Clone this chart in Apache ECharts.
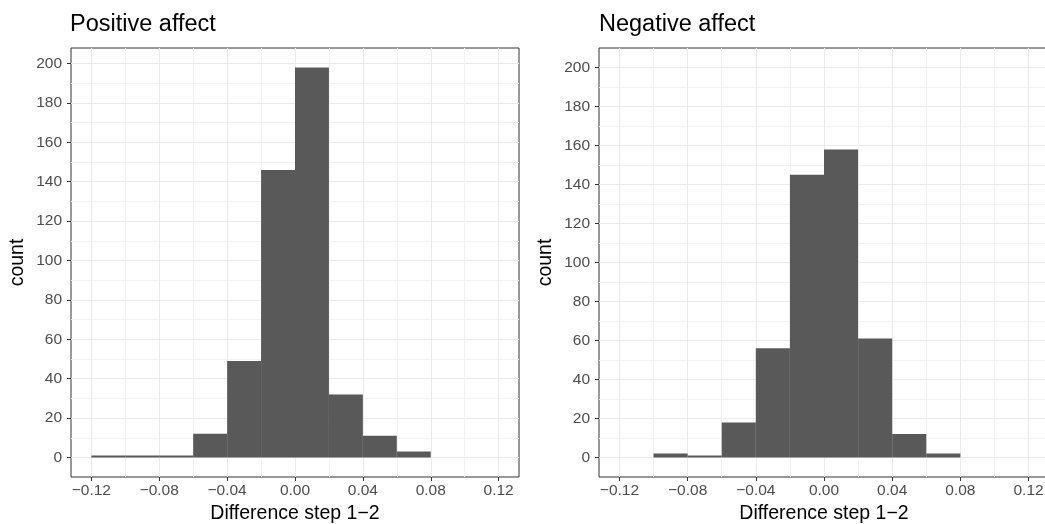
<!DOCTYPE html>
<html>
<head>
<meta charset="utf-8">
<script src="https://cdn.jsdelivr.net/npm/echarts@6/dist/echarts.min.js"></script>
<style>
  html, body { margin: 0; padding: 0; background: #fff; }
  #chart { width: 1045px; height: 524px; }
</style>
</head>
<body>
<div id="chart"></div>
<script>
// histogram data: left edge of each bin, all bins 0.02 wide
const binWidth = 0.02;
const posBins = [-0.12, -0.10, -0.08, -0.06, -0.04, -0.02, 0.00, 0.02, 0.04, 0.06];
const posCounts = [1, 1, 1, 12, 49, 146, 198, 32, 11, 3];
const negBins = [-0.10, -0.08, -0.06, -0.04, -0.02, 0.00, 0.02, 0.04, 0.06];
const negCounts = [2, 1, 18, 56, 145, 158, 61, 12, 2];

const xTicks = [-0.12, -0.08, -0.04, 0.00, 0.04, 0.08, 0.12];
const xMinor = [-0.10, -0.06, -0.02, 0.02, 0.06, 0.10];
const yTicks = [0, 20, 40, 60, 80, 100, 120, 140, 160, 180, 200];
const yMinor = [10, 30, 50, 70, 90, 110, 130, 150, 170, 190];

const panelTitles = ['Positive affect', 'Negative affect'];
const xTitle = 'Difference step 1\u22122';
const yTitle = 'count';

function fmtX(v) {
    if (Math.abs(v) < 1e-9) return '0.00';
    return (v < 0 ? '\u2212' : '') + Math.abs(v).toFixed(2);
}

function toRows(bins, counts) {
    return bins.map((b, i) => [b, b + binWidth, counts[i]]);
}

const font = 'Liberation Sans, Arial, sans-serif';
const grids = [
    { left: 71, top: 48, width: 448, bottom: 47 },
    { left: 599, top: 48, right: -4, bottom: 47 }
];
const yRanges = [[-9.9, 207.9], [-10, 210]];

const xAxes = [];
const yAxes = [];
const series = [];

grids.forEach((g, i) => {
    // visible axes with major grid lines
    xAxes.push({
        type: 'value', gridIndex: i, min: -0.132, max: 0.132,
        name: xTitle, nameLocation: 'middle', nameGap: 25,
        nameTextStyle: { fontFamily: font, fontSize: 19.5, color: '#000' },
        axisLine: { show: false, onZero: false },
        axisTick: { show: true, length: 4, customValues: xTicks, lineStyle: { color: '#333' } },
        axisLabel: { customValues: xTicks, formatter: fmtX, margin: 6, fontFamily: font, fontSize: 15.5, color: '#4d4d4d' },
        splitLine: { show: true, lineStyle: { color: '#ebebeb', width: 1 } }
    });
    yAxes.push({
        type: 'value', gridIndex: i, min: yRanges[i][0], max: yRanges[i][1],
        name: yTitle, nameLocation: 'middle', nameGap: 43, nameRotate: 90,
        nameTextStyle: { fontFamily: font, fontSize: 19.5, color: '#000' },
        axisLine: { show: false, onZero: false },
        axisTick: { show: true, length: 4, customValues: yTicks, lineStyle: { color: '#333' } },
        axisLabel: { customValues: yTicks, margin: 9, fontFamily: font, fontSize: 15.5, color: '#4d4d4d' },
        splitLine: { show: true, lineStyle: { color: '#ebebeb', width: 1 } }
    });
});

grids.forEach((g, i) => {
    // hidden overlay axes for the minor grid lines
    xAxes.push({
        type: 'value', gridIndex: i, min: -0.132, max: 0.132,
        axisLine: { show: false }, axisLabel: { show: false },
        axisTick: { show: false, customValues: xMinor },
        splitLine: { show: true, lineStyle: { color: '#f2f2f2', width: 1 } }
    });
    yAxes.push({
        type: 'value', gridIndex: i, min: yRanges[i][0], max: yRanges[i][1],
        axisLine: { show: false }, axisLabel: { show: false },
        axisTick: { show: false, customValues: yMinor },
        splitLine: { show: true, lineStyle: { color: '#f2f2f2', width: 1 } }
    });
});

const datasets = [toRows(posBins, posCounts), toRows(negBins, negCounts)];
datasets.forEach((rows, i) => {
    series.push({
        type: 'custom',
        xAxisIndex: i, yAxisIndex: i,
        data: rows,
        encode: { x: [0, 1], y: 2 },
        z: 5,
        renderItem(params, api) {
            const p0 = api.coord([api.value(0), api.value(2)]);
            const p1 = api.coord([api.value(1), 0]);
            return {
                type: 'rect',
                shape: { x: p0[0], y: p0[1], width: p1[0] - p0[0], height: p1[1] - p0[1] },
                style: { fill: '#595959' }
            };
        }
    });
});

const titleStyle = { fontFamily: font, fontSize: 23.5, fontWeight: 'normal', color: '#000' };
const chart = echarts.init(document.getElementById('chart'), null, { renderer: 'canvas' });
chart.setOption({
    animation: false,
    backgroundColor: '#fff',
    title: [
        { text: panelTitles[0], left: 70, top: 13, padding: 0, textStyle: titleStyle },
        { text: panelTitles[1], left: 599, top: 13, padding: 0, textStyle: titleStyle }
    ],
    grid: grids.map(g => Object.assign({
        show: true, borderColor: '#333', borderWidth: 1, backgroundColor: 'transparent',
        containLabel: false, outerBoundsMode: 'none'
    }, g)),
    xAxis: xAxes,
    yAxis: yAxes,
    series: series
});
</script>
</body>
</html>
